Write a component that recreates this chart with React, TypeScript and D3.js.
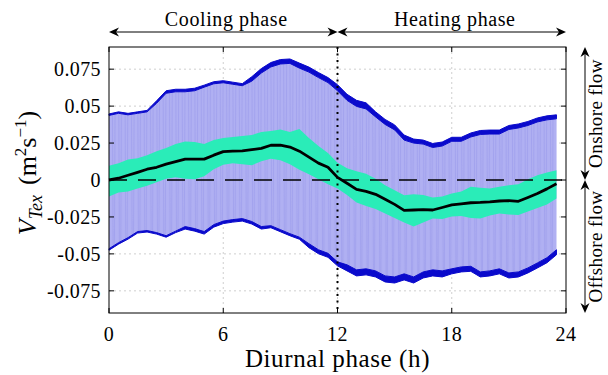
import React from 'react';
import * as d3 from 'd3';

const hours = d3.range(0, 24, 0.5);

const meanV = [0, 0.0012, 0.0032, 0.0052, 0.0073, 0.0086, 0.0107, 0.0124, 0.0141, 0.0141,
  0.0141, 0.0168, 0.0192, 0.0195, 0.0197, 0.0206, 0.0214, 0.0235, 0.0236, 0.0223,
  0.0195, 0.0155, 0.0114, 0.0086, 0.0018, -0.0022, -0.0063, -0.0077, -0.0097, -0.0131,
  -0.0165, -0.0206, -0.0203, -0.0200, -0.0203, -0.0186, -0.0169, -0.0162, -0.0154, -0.0152,
  -0.0148, -0.0142, -0.0140, -0.0144, -0.0118, -0.0091, -0.0060, -0.0026];

const greenUpper = [0.0097, 0.0114, 0.0138, 0.0148, 0.0168, 0.0195, 0.0216, 0.0243, 0.0260, 0.0257,
  0.0243, 0.0270, 0.0284, 0.0291, 0.0298, 0.0304, 0.0325, 0.0332, 0.0342, 0.0325,
  0.0345, 0.0284, 0.0230, 0.0182, 0.0117, 0.0080, 0.0059, 0.0042, 0.0008, -0.0036,
  -0.0070, -0.0104, -0.0097, -0.0101, -0.0118, -0.0111, -0.0091, -0.0077, -0.0046, -0.0053,
  -0.0057, -0.0046, -0.0036, -0.0029, 0.0005, 0.0032, 0.0050, 0.0066];

const greenLower = [-0.0111, -0.0084, -0.0077, -0.0057, -0.0039, -0.0016, 0.0008, 0.0018, 0.0008, 0.0005,
  0.0025, 0.0073, 0.0104, 0.0114, 0.0107, 0.0100, 0.0127, 0.0144, 0.0134, 0.0107,
  0.0069, 0.0039, 0.0005, -0.0029, -0.0057, -0.0101, -0.0152, -0.0176, -0.0196, -0.0227,
  -0.0257, -0.0288, -0.0315, -0.0288, -0.0261, -0.0264, -0.0247, -0.0244, -0.0257, -0.0261,
  -0.0240, -0.0227, -0.0234, -0.0237, -0.0213, -0.0189, -0.0165, -0.0125];

const upperOuter = [0.0447, 0.0461, 0.0451, 0.0461, 0.0471, 0.0536, 0.0604, 0.0614, 0.0614, 0.0621,
  0.0642, 0.0665, 0.0672, 0.0662, 0.0652, 0.0699, 0.0754, 0.0795, 0.0815, 0.0819,
  0.0791, 0.0764, 0.0727, 0.0693, 0.0645, 0.0580, 0.0539, 0.0522, 0.0461, 0.0410,
  0.0373, 0.0304, 0.0277, 0.0270, 0.0247, 0.0257, 0.0289, 0.0289, 0.0318, 0.0335,
  0.0338, 0.0338, 0.0369, 0.0379, 0.0396, 0.0420, 0.0434, 0.0441];

const upperInner = [0.0437, 0.0451, 0.0441, 0.0451, 0.0461, 0.0519, 0.0587, 0.0597, 0.0597, 0.0604,
  0.0628, 0.0651, 0.0658, 0.0648, 0.0638, 0.0669, 0.0724, 0.0765, 0.0785, 0.0789,
  0.0757, 0.0730, 0.0693, 0.0659, 0.0604, 0.0539, 0.0498, 0.0481, 0.0427, 0.0376,
  0.0339, 0.0270, 0.0250, 0.0243, 0.0220, 0.0230, 0.0262, 0.0262, 0.0291, 0.0308,
  0.0311, 0.0311, 0.0342, 0.0352, 0.0369, 0.0393, 0.0407, 0.0414];

const lowerInner = [-0.0465, -0.0424, -0.0390, -0.0349, -0.0342, -0.0356, -0.0377, -0.0346, -0.0315, -0.0329,
  -0.0349, -0.0302, -0.0278, -0.0268, -0.0261, -0.0281, -0.0315, -0.0309, -0.0336, -0.0363,
  -0.0387, -0.0431, -0.0472, -0.0496, -0.0554, -0.0574, -0.0608, -0.0601, -0.0615, -0.0649,
  -0.0656, -0.0635, -0.0656, -0.0622, -0.0608, -0.0615, -0.0601, -0.0588, -0.0584, -0.0622,
  -0.0615, -0.0601, -0.0629, -0.0622, -0.0595, -0.0561, -0.0526, -0.0472];

const lowerOuter = [-0.0475, -0.0434, -0.0400, -0.0359, -0.0352, -0.0366, -0.0387, -0.0356, -0.0332, -0.0346,
  -0.0366, -0.0319, -0.0295, -0.0285, -0.0278, -0.0298, -0.0332, -0.0323, -0.0350, -0.0377,
  -0.0401, -0.0458, -0.0499, -0.0523, -0.0581, -0.0615, -0.0649, -0.0642, -0.0656, -0.0690,
  -0.0697, -0.0676, -0.0697, -0.0663, -0.0649, -0.0656, -0.0635, -0.0622, -0.0618, -0.0656,
  -0.0649, -0.0635, -0.0663, -0.0656, -0.0629, -0.0595, -0.0560, -0.0506];

const xTicks = [0, 6, 12, 18, 24];
const yTicks = [0.075, 0.05, 0.025, 0, -0.025, -0.05, -0.075];
const yTickLabels = ['0.075', '0.05', '0.025', '0', '-0.025', '-0.05', '-0.075'];
const phaseLabels = ['Cooling phase', 'Heating phase'];
const flowLabels = ['Onshore flow', 'Offshore flow'];

const W = 608, H = 375;
const L = 109, R = 566, T = 47, B = 313;
const FONT = '"Liberation Serif", "Times New Roman", serif';

export default function App() {
  const x = d3.scaleLinear().domain([0, 24]).range([L, R]);
  const y = d3.scaleLinear().domain([-0.09, 0.09]).range([B, T]);

  const band = (lo: number[], hi: number[]) =>
    d3.area<number>().x((_, i) => x(hours[i])).y0((_, i) => y(lo[i])).y1((_, i) => y(hi[i]))(hours) || '';
  const line = (v: number[]) =>
    d3.line<number>().x((_, i) => x(hours[i])).y((_, i) => y(v[i]))(hours) || '';

  const lavender = band(lowerInner, upperInner);
  const stripes = d3.range(0, 23.5 + 1e-9, 1 / 6);

  const y0 = y(0);
  const xMid = x(12);
  const ay = 32;
  const head = (tx: number, ty: number, dir: 'l' | 'r' | 'u' | 'd') => {
    const len = 10, hw = 4.5, notch = 7;
    if (dir === 'r') return `M${tx},${ty}L${tx - len},${ty - hw}L${tx - notch},${ty}L${tx - len},${ty + hw}Z`;
    if (dir === 'l') return `M${tx},${ty}L${tx + len},${ty - hw}L${tx + notch},${ty}L${tx + len},${ty + hw}Z`;
    if (dir === 'u') return `M${tx},${ty}L${tx - hw},${ty + len}L${tx},${ty + notch}L${tx + hw},${ty + len}Z`;
    return `M${tx},${ty}L${tx - hw},${ty - len}L${tx},${ty - notch}L${tx + hw},${ty - len}Z`;
  };
  const ax = 585;

  return (
    <svg width={W} height={H} style={{ position: 'absolute', left: 0, top: 0, background: '#fff' }} fontFamily={FONT}>
      <defs>
        <clipPath id="lav"><path d={lavender} /></clipPath>
      </defs>
      {/* grid */}
      {yTicks.filter(t => t !== 0).map(t => (
        <line key={'gy' + t} x1={L} x2={R} y1={y(t)} y2={y(t)} stroke="#cfcfcf" strokeWidth={1} strokeDasharray="2 3" />
      ))}
      {xTicks.filter(t => t > 0 && t < 24).map(t => (
        <line key={'gx' + t} x1={x(t)} x2={x(t)} y1={T} y2={B} stroke="#cfcfcf" strokeWidth={1} strokeDasharray="2 3" />
      ))}
      {/* bands */}
      <path d={lavender} fill="#b0b0f2" />
      <g clipPath="url(#lav)">
        {stripes.map((s, i) => (
          <line key={'st' + i} x1={x(s)} x2={x(s) + (i % 2 ? 1.2 : -1.2)} y1={T} y2={B} stroke="#8f8fe6" strokeWidth={0.9} opacity={0.4} />
        ))}
      </g>
      <path d={band(upperInner, upperOuter)} fill="#0a0acc" stroke="#0a0acc" strokeWidth={1} />
      <path d={band(lowerOuter, lowerInner)} fill="#0a0acc" stroke="#0a0acc" strokeWidth={1} />
      <path d={band(greenLower, greenUpper)} fill="#2aecb8" />
      {/* zero line */}
      <line x1={L} x2={R} y1={y0} y2={y0} stroke="#000" strokeWidth={1.5} strokeDasharray="18 11" />
      {/* mean */}
      <path d={line(meanV)} fill="none" stroke="#000" strokeWidth={2.8} strokeLinejoin="round" />
      {/* 12h dotted */}
      <line x1={xMid} x2={xMid} y1={T} y2={B} stroke="#000" strokeWidth={2} strokeDasharray="2 4.5" />
      {/* frame */}
      <rect x={L} y={T} width={R - L} height={B - T} fill="none" stroke="#000" strokeWidth={1} />
      {yTicks.map(t => (
        <g key={'ty' + t}>
          <line x1={L} x2={L + 5} y1={y(t)} y2={y(t)} stroke="#000" />
          <line x1={R} x2={R - 5} y1={y(t)} y2={y(t)} stroke="#000" />
        </g>
      ))}
      {xTicks.map(t => (
        <g key={'tx' + t}>
          <line x1={x(t)} x2={x(t)} y1={B} y2={B - 5} stroke="#000" />
          <line x1={x(t)} x2={x(t)} y1={T} y2={T + 5} stroke="#000" />
        </g>
      ))}
      {/* tick labels */}
      {yTicks.map((t, i) => (
        <text key={'ly' + t} x={101} y={y(t)} dy="0.34em" textAnchor="end" fontSize={20} letterSpacing={0.4}>{yTickLabels[i]}</text>
      ))}
      {xTicks.map(t => (
        <text key={'lx' + t} x={x(t)} y={341} textAnchor="middle" fontSize={20} letterSpacing={0.4}>{t}</text>
      ))}
      <text x={(L + R) / 2} y={367} textAnchor="middle" fontSize={25} letterSpacing={0.6}>Diurnal phase (h)</text>
      {/* y label */}
      <text transform={`translate(36,${173}) rotate(-90)`} textAnchor="middle" fontSize={26}>
        <tspan fontStyle="italic">V</tspan>
        <tspan fontStyle="italic" fontSize={18} dy={6}>Tex</tspan>
        <tspan dy={-6} dx={10}>(m</tspan>
        <tspan fontSize={17} dy={-10}>2</tspan>
        <tspan dy={10}>s</tspan>
        <tspan fontSize={17} dy={-10}>−1</tspan>
        <tspan dy={10}>)</tspan>
      </text>
      {/* top phase arrows */}
      <line x1={L + 5} x2={xMid - 5} y1={ay} y2={ay} stroke="#000" strokeWidth={1} />
      <line x1={xMid + 5} x2={R - 5} y1={ay} y2={ay} stroke="#000" strokeWidth={1} />
      <path d={head(L, ay, 'l')} fill="#000" />
      <path d={head(xMid, ay, 'r')} fill="#000" />
      <path d={head(xMid, ay, 'l')} fill="#000" />
      <path d={head(R, ay, 'r')} fill="#000" />
      <text x={(L + xMid) / 2 + 3} y={26} textAnchor="middle" fontSize={20} letterSpacing={0.6}>{phaseLabels[0]}</text>
      <text x={(xMid + R) / 2 + 3} y={26} textAnchor="middle" fontSize={20} letterSpacing={0.6}>{phaseLabels[1]}</text>
      {/* right flow arrows */}
      <line x1={ax} x2={ax} y1={T + 5} y2={y0 - 5} stroke="#000" strokeWidth={1} />
      <line x1={ax} x2={ax} y1={y0 + 5} y2={B - 5} stroke="#000" strokeWidth={1} />
      <path d={head(ax, T, 'u')} fill="#000" />
      <path d={head(ax, y0, 'd')} fill="#000" />
      <path d={head(ax, y0, 'u')} fill="#000" />
      <path d={head(ax, B, 'd')} fill="#000" />
      <text transform={`translate(602,${(T + y0) / 2}) rotate(-90)`} textAnchor="middle" fontSize={19} letterSpacing={0.4}>{flowLabels[0]}</text>
      <text transform={`translate(602,${(y0 + B) / 2}) rotate(-90)`} textAnchor="middle" fontSize={19} letterSpacing={0.4}>{flowLabels[1]}</text>
    </svg>
  );
}
